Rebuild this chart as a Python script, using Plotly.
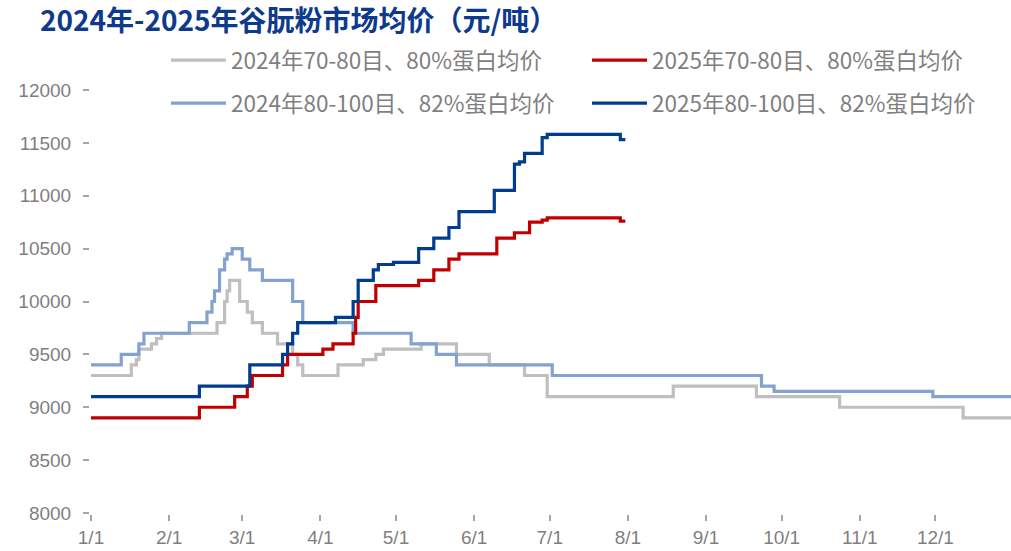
import plotly.graph_objects as go

# ---- data (month-day, values) ----
g24_dates = ["01-01", "01-17", "01-19", "01-20", "01-25", "01-27", "01-29", "02-20", "02-23", "02-24",
             "02-25", "02-29", "03-03", "03-05", "03-09", "03-15", "03-21", "03-23", "03-25", "04-08",
             "04-18", "04-23", "04-26", "05-11", "05-25", "06-07", "06-21", "06-30", "08-19", "09-21",
             "10-24", "12-12", "12-31"]
g24_vals = [9300, 9400, 9450, 9550, 9600, 9650, 9700, 9800, 10000, 10100,
            10200, 10000, 9900, 9800, 9700, 9600, 9500, 9400, 9300, 9400,
            9450, 9500, 9550, 9600, 9500, 9400, 9300, 9100, 9200, 9100,
            9000, 8900, 8900]

b24_dates = ["01-01", "01-13", "01-20", "01-22", "02-09", "02-16", "02-18", "02-19", "02-21", "02-23",
             "02-24", "02-26", "03-01", "03-04", "03-09", "03-21", "03-25", "04-14", "05-07", "05-17",
             "05-25", "07-02", "09-23", "09-28", "11-30", "12-31"]
b24_vals = [9400, 9500, 9600, 9700, 9800, 9900, 10000, 10100, 10300, 10400,
            10450, 10500, 10400, 10300, 10200, 10000, 9800, 9700, 9600, 9500,
            9400, 9300, 9200, 9150, 9100, 9100]

r25_dates = ["01-01", "02-13", "02-27", "03-03", "03-05", "03-17", "03-19", "04-02", "04-06", "04-14",
             "04-15", "04-16", "04-23", "05-10", "05-16", "05-22", "05-26", "06-10", "06-17", "06-23",
             "06-28", "06-30", "07-29", "07-31"]
r25_vals = [8900, 9000, 9100, 9200, 9300, 9400, 9500, 9550, 9600, 9700,
            9850, 10000, 10150, 10200, 10300, 10400, 10450, 10600, 10650, 10750,
            10770, 10790, 10760, 10760]

d25_dates = ["01-01", "02-13", "03-04", "03-17", "03-19", "03-21", "03-23", "04-07", "04-14", "04-16",
             "04-22", "04-24", "04-30", "05-10", "05-16", "05-22", "05-26", "06-09", "06-17", "06-19",
             "06-21", "06-28", "06-30", "07-29", "07-31"]
d25_vals = [9100, 9200, 9400, 9500, 9600, 9700, 9800, 9850, 10000, 10200,
            10300, 10350, 10370, 10500, 10600, 10700, 10850, 11050, 11300, 11320,
            11400, 11550, 11580, 11530, 11530]

series_names = ["2024年70-80目、80%蛋白均价", "2025年70-80目、80%蛋白均价",
                "2024年80-100目、82%蛋白均价", "2025年80-100目、82%蛋白均价"]
month_ticks = ["01-01", "02-01", "03-01", "04-01", "05-01", "06-01", "07-01", "08-01",
               "09-01", "10-01", "11-01", "12-01"]
month_labels = ["1/1", "2/1", "3/1", "4/1", "5/1", "6/1", "7/1", "8/1", "9/1", "10/1", "11/1", "12/1"]
y_ticks = [8000, 8500, 9000, 9500, 10000, 10500, 11000, 11500, 12000]

YEAR = "2024-"


def xs(ds):
    return [YEAR + d for d in ds]


colors = ["#BFBFBF", "#C00000", "#84A2CF", "#003C8F"]
data = [(g24_dates, g24_vals), (r25_dates, r25_vals), (b24_dates, b24_vals), (d25_dates, d25_vals)]
legend_ids = ["legend", "legend2", "legend3", "legend4"]
zorder = [0, 2, 1, 3]

fig = go.Figure()
for i, (ds, vs) in enumerate(data):
    fig.add_trace(go.Scatter(
        x=xs(ds), y=vs, mode="lines", name=series_names[i], showlegend=True,
        line=dict(color=colors[i], width=3.2, shape="hv"),
        legend=legend_ids[i], zorder=zorder[i]))

axis_font = dict(family="Liberation Sans, Arial", size=19, color="#7F7F7F")
legend_font = dict(family="Noto Sans CJK SC", size=22.5, color="#7F7F7F")

# legend boxes: (left pixel, top pixel)
legend_pos = [(166, 39), (587, 39), (166, 82), (587, 82)]
W, H, L, T, PW, PH = 1011, 551, 91, 90, 920, 423
legend_layout = {}
for lid, (px, py) in zip(legend_ids, legend_pos):
    legend_layout[lid] = dict(orientation="h", x=(px - L) / PW, xanchor="left",
                              y=1 + (T - py) / PH, yanchor="top", itemwidth=55,
                              font=legend_font, bgcolor="rgba(0,0,0,0)", visible=True)

fig.update_layout(
    width=W, height=H, autosize=False, showlegend=True,
    margin=dict(l=L, r=0, t=T, b=38),
    plot_bgcolor="white", paper_bgcolor="white",
    title=dict(text="<b>2024年-2025年谷朊粉市场均价（元/吨）</b>",
               x=40 / W, xanchor="left", y=1 - 21 / H, yanchor="middle",
               font=dict(family="Noto Sans CJK SC", size=28, color="#0E3A8C")),
    xaxis=dict(type="date", range=["2024-01-01", "2024-12-31"],
               tickvals=xs(month_ticks), ticktext=month_labels, automargin=False,
               showline=True, linecolor="#A6A6A6", linewidth=2,
               ticks="outside", tickcolor="#A6A6A6", ticklen=6, tickwidth=1.5,
               showgrid=False, zeroline=False, tickfont=axis_font),
    yaxis=dict(range=[8000, 12000], tickvals=y_ticks, ticktext=[str(v) for v in y_ticks],
               automargin=False, ticklabelstandoff=8,
               showline=True, linecolor="#A6A6A6", linewidth=2,
               ticks="outside", tickcolor="#A6A6A6", ticklen=6, tickwidth=1.5,
               showgrid=False, zeroline=False, tickfont=axis_font),
    **legend_layout,
)

post = ("document.body.style.margin='0';document.body.style.overflow='hidden';"
        "Plotly.relayout('{plot_id}', {width:1011, height:551});")
fig.write_html("out.html", post_script=post,
               config={"responsive": False, "displayModeBar": False})
